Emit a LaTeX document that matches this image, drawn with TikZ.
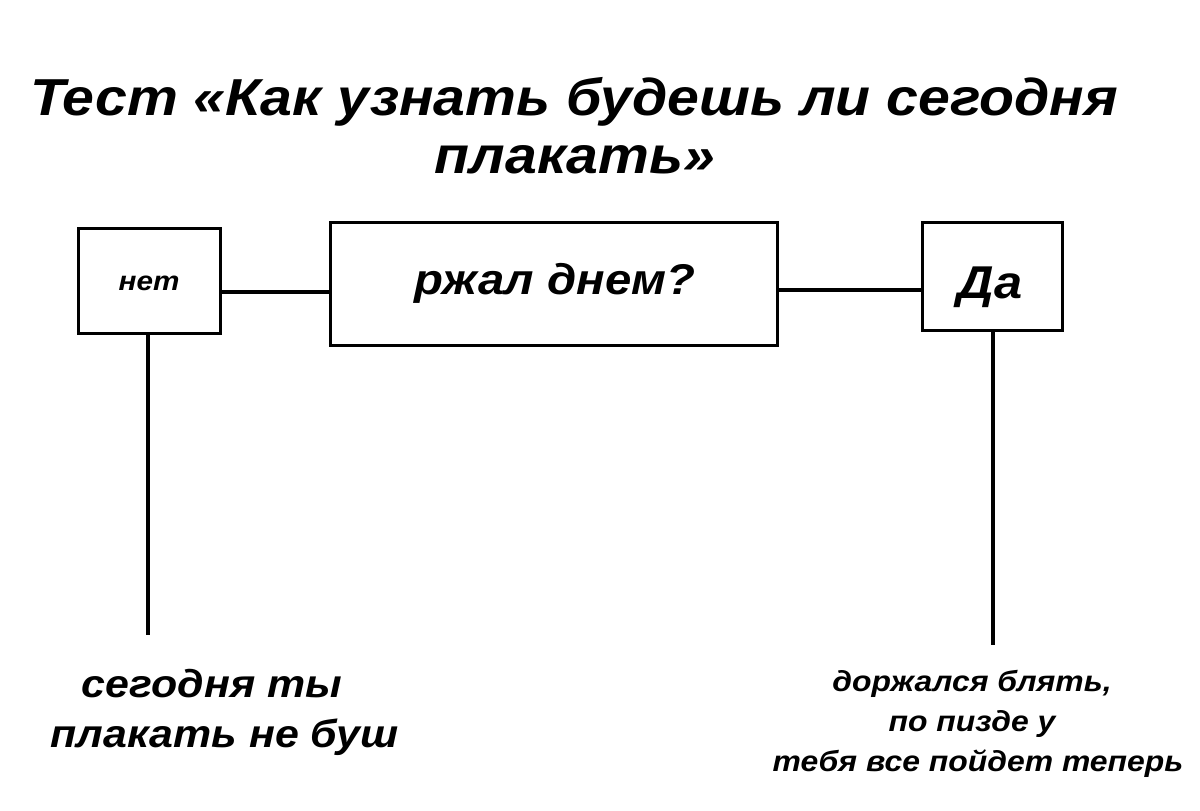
\documentclass[tikz,border=0pt]{standalone}
\usepackage{fontspec}
\setmainfont{Liberation Sans}[FakeStretch=1.1]
\begin{document}
\begin{tikzpicture}[x=1pt,y=-1pt,
  box/.style={draw,line width=3pt,inner sep=0pt},
  ln/.style={line width=3.5pt},
  t/.style={font=\bfseries\itshape,align=center,inner sep=0pt}]
\useasboundingbox[fill=white] (0,0) rectangle (1200,811);
\node[t,font=\fontsize{52}{60}\selectfont\bfseries\itshape,anchor=base west] (title) at (30,115) {Тест «Как узнать будешь ли сегодня};
\node[t,font=\fontsize{52}{60}\selectfont\bfseries\itshape,anchor=base] (title2) at (575,173) {плакать»};
\node[box,minimum width=142pt,minimum height=105pt] (net) at (149,280.5) {};
\node[t,font=\fontsize{27}{36}\selectfont\bfseries\itshape] at (149,283) {нет};
\node[box,minimum width=447pt,minimum height=123pt] (q) at (553.5,283.5) {};
\node[t,font=\fontsize{43}{48}\selectfont\bfseries\itshape] at (555,283) {ржал днем?};
\node[box,minimum width=140pt,minimum height=108pt] (da) at (992,276) {};
\node[t,font=\fontsize{46}{48}\selectfont\bfseries\itshape] at (990,287) {Да};
\draw[ln] (net.east |- 0,292) -- (q.west |- 0,292);
\draw[ln] (q.east |- 0,290) -- (da.west |- 0,290);
\coordinate (lend) at (148,635);
\coordinate (rend) at (993,645);
\draw[ln] (net.south -| 148,0) -- (lend);
\draw[ln] (da.south -| 993,0) -- (rend);
\node[t,font=\fontsize{39}{52}\selectfont\bfseries\itshape] (lt) at (212,712) {сегодня ты\\[-2pt]\hspace*{25pt}плакать не буш};
\node[t,font=\fontsize{29}{40}\selectfont\bfseries\itshape] (rt) at (972,724) {доржался блять,\\по пизде у\\\hspace*{12pt}тебя все пойдет теперь};
\end{tikzpicture}
\end{document}
